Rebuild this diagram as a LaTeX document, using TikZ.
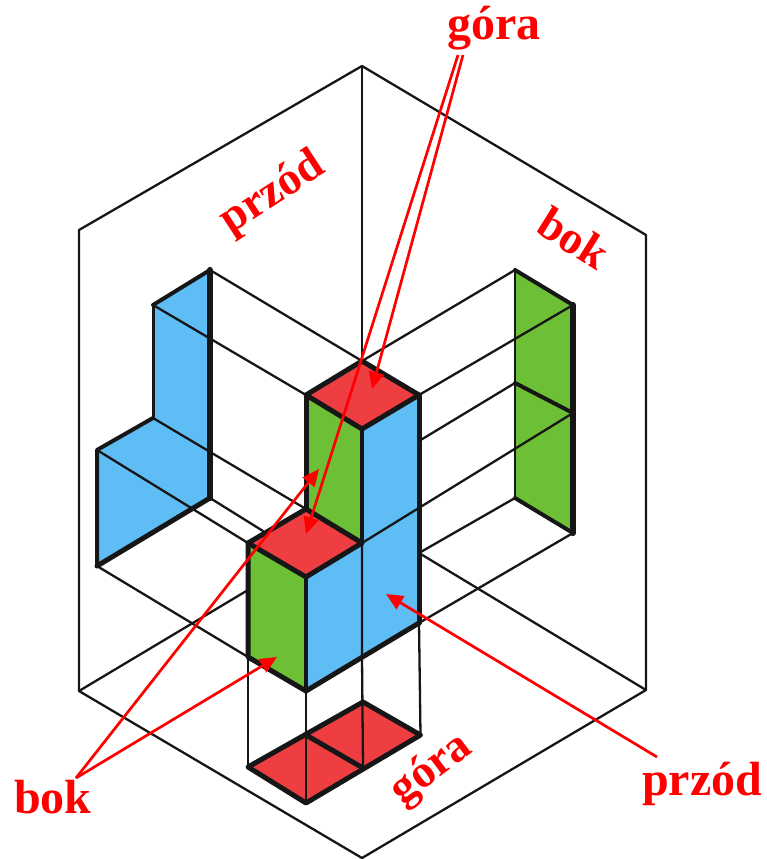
\documentclass[tikz,border=0pt]{standalone}
\usepackage{fontspec}
\setmainfont{Liberation Serif}
\usetikzlibrary{arrows.meta}
\definecolor{cblue}{HTML}{5FBDF5}
\definecolor{cgreen}{HTML}{6DC035}
\definecolor{cred}{HTML}{EF3E42}
\definecolor{cink}{HTML}{161616}
\tikzset{
  thin line/.style={draw=cink,line width=2.3pt,line cap=round,line join=round},
  stem/.style={draw=cink,line width=3pt,line cap=round,line join=round},
  medium/.style={draw=cink,line width=4pt,line cap=round,line join=round},
  heavy/.style={draw=cink,line width=5pt,line cap=round,line join=round},
  vheavy/.style={draw=cink,line width=6.2pt,line cap=round},
  pointer/.style={draw=red,line width=2.7pt,-{Triangle[length=17pt,width=15pt]}},
  lab/.style={text=red,font=\bfseries\fontsize{48}{48}\selectfont,inner sep=0pt},
  tiltlab/.style={text=red,font=\bfseries\fontsize{46}{46}\selectfont,inner sep=0pt}
}
\begin{document}
\begin{tikzpicture}[x=1pt,y=-1pt]
\useasboundingbox (0,0) rectangle (766,859);
% frame
\coordinate (T) at (362,66); \coordinate (LT) at (79,230); \coordinate (LB) at (79,691);
\coordinate (B) at (362,858); \coordinate (RB) at (646,690); \coordinate (RT) at (646,235);
\coordinate (C) at (362,361);
% left blue
\coordinate (a1) at (210,270); \coordinate (a2) at (153,305); \coordinate (a3) at (153,418);
\coordinate (a4) at (97,450); \coordinate (a5) at (97,566); \coordinate (a6) at (210,498);
% right green
\coordinate (g1) at (515,270); \coordinate (g2) at (573,305); \coordinate (g3) at (573,533);
\coordinate (g4) at (515,498); \coordinate (g5) at (515,383); \coordinate (g6) at (573,413);
% column
\coordinate (c1) at (306,395); \coordinate (c2) at (362,429); \coordinate (c3) at (419,395);
\coordinate (c4) at (362,543); \coordinate (c5) at (306,509); \coordinate (c6) at (248,543);
\coordinate (c7) at (306,577); \coordinate (c8) at (306,691); \coordinate (c9) at (248,657);
\coordinate (c10) at (419,623); \coordinate (c11) at (362,657);
% floor
\coordinate (f1) at (248,767); \coordinate (f2) at (306,803); \coordinate (f3) at (420.5,735);
\coordinate (f4) at (363,702); \coordinate (f5) at (306,735); \coordinate (f6) at (363,768);
% fills
\fill[cblue] (a1)--(a2)--(a3)--(a4)--(a5)--(a6)--cycle;
\fill[cgreen] (g1)--(g2)--(g3)--(g4)--cycle;
\fill[cred] (C)--(c1)--(c2)--(c3)--cycle;
\fill[cgreen] (c1)--(c2)--(c4)--(c5)--cycle;
\fill[cblue] (c2)--(c3)--(c10)--(c8)--(c7)--(c4)--cycle;
\fill[cred] (c5)--(c6)--(c7)--(c4)--cycle;
\fill[cgreen] (c6)--(c7)--(c8)--(c9)--cycle;
\fill[cred] (f1)--(f2)--(f3)--(f4)--cycle;
% thin lines
\draw[thin line] (LB)--(LT)--(T)--(RT)--(RB)--(B)--(LB);
\draw[thin line] (T)--(C);
\draw[thin line] (a1)--(C)--(g1);
\draw[thin line] (a2)--(c1);
\draw[thin line] (a3)--(c5);
\draw[thin line] (a4)--(c6);
\draw[thin line] (a6)--(263,531);
\draw[thin line] (a5)--(c9);
\draw[thin line] (LB)--(248,590);
\draw[thin line] (c3)--(g2);
\draw[thin line] (419,441)--(g5);
\draw[thin line] (c4)--(g6);
\draw[thin line] (419,553)--(g4);
\draw[thin line] (419,553)--(RB);
\draw[thin line] (c10)--(g3);
\draw[thin line] (c4)--(c11)--(363,767);
\draw[thin line] (c9)--(f1);
\draw[thin line] (c8)--(f2);
\draw[thin line] (c10)--(f3);
\draw[thin line] (g1)--(g4);
% heavy lines
\draw[stem] (a2)--(a3);
\draw[medium] (a2)--(a1);
\draw[vheavy] (a1)--(a6);
\draw[medium] (a3)--(a4)--(a5);
\draw[heavy] (a5)--(a6);
\draw[medium] (g1)--(g2);
\draw[vheavy] (g2)--(g3);
\draw[medium] (g3)--(g4);
\draw[medium] (g5)--(g6);
\draw[heavy] (C)--(c1)--(c2)--(c3)--cycle;
\draw[heavy] (c1)--(c5);
\draw[medium] (c2)--(c4);
\draw[heavy] (c3)--(c10);
\draw[heavy] (c5)--(c6)--(c7)--(c4)--cycle;
\draw[heavy] (c6)--(c9)--(c8);
\draw[medium] (c7)--(c8);
\draw[heavy] (c8)--(c10);
\draw[heavy] (f1)--(f2)--(f3)--(f4)--cycle;
\draw[heavy] (f5)--(f6);
% labels
\node[lab] (lgoratop) at (494,28) {góra};
\node[lab] (lprzodr) at (702,784) {przód};
\node[lab] (lbok) at (53,797) {bok};
\node[tiltlab,rotate=-32] (lbokr) at (574,238) {bok};
\node[tiltlab,rotate=33] (lprzodl) at (273,194) {przód};
\node[tiltlab,rotate=37] (lgorab) at (432,770) {góra};
% pointers
\coordinate (p1) at (463,55); \coordinate (p2) at (458,55);
\coordinate (p3) at (372,389); \coordinate (p4) at (306,534);
\coordinate (p5) at (76,778); \coordinate (p6) at (319,469); \coordinate (p7) at (277,657);
\coordinate (p8) at (657,757); \coordinate (p9) at (386,594);
\draw[pointer] (p1)--(p3);
\draw[pointer] (p2)--(p4);
\draw[pointer] (p5)--(p6);
\draw[pointer] (p5)--(p7);
\draw[pointer] (p8)--(p9);
\end{tikzpicture}
\end{document}
